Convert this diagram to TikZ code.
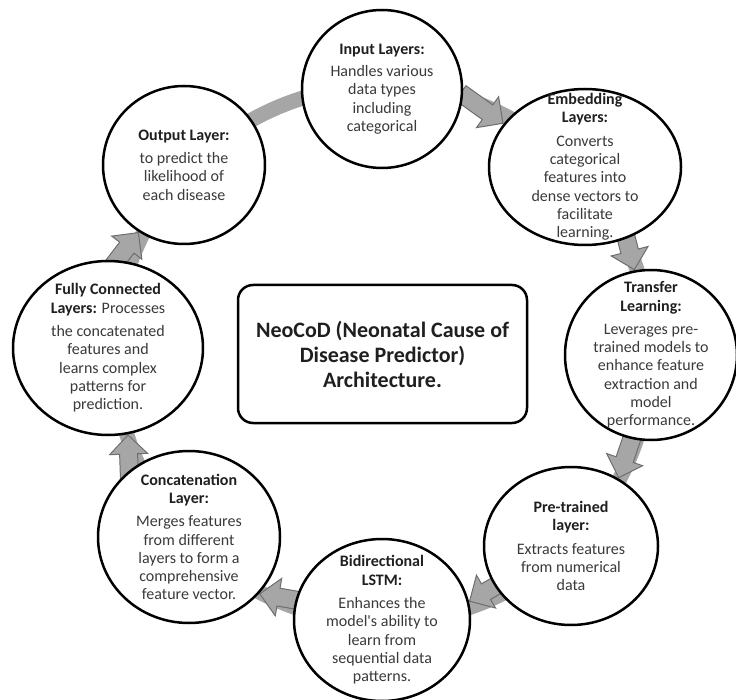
\documentclass[tikz,border=0pt]{standalone}
\usepackage{fontspec}
\setmainfont{Carlito}
\usetikzlibrary{positioning, calc, shapes.geometric, shapes.arrows, backgrounds}
\definecolor{Ink}{HTML}{1F1F1F}
\definecolor{Body}{HTML}{3A3A3A}
\definecolor{Band}{HTML}{A6A6A6}
\definecolor{ArrowFill}{HTML}{A6A6A6}
\definecolor{ArrowEdge}{HTML}{6E6E6E}
\newcommand{\layerhead}[1]{{\fontsize{16}{18.3}\selectfont\bfseries\color{Ink}#1}}
\tikzset{
    layer/.style={ellipse, draw=black, line width=2.5pt, fill=white, inner sep=0pt},
    layertext/.style={align=center, text=Body, inner sep=0pt, font=\fontsize{16}{18.3}\selectfont},
    corebox/.style={rectangle, rounded corners=15pt, draw=black, line width=2.5pt, fill=white, minimum width=289pt, minimum height=138pt, align=center, text=Ink, font=\bfseries\fontsize{22}{25}\selectfont},
    flow/.style={single arrow, draw=ArrowEdge, fill=ArrowFill, line width=1pt, minimum height=52pt, inner xsep=0pt, inner ysep=8.5pt, single arrow head extend=10pt, single arrow head indent=0pt, sloped, allow upside down, anchor=tip, pos=1},
    ringband/.style={draw=Band, line width=15pt},
}

\begin{document}
\begin{tikzpicture}[x=1pt, y=-1pt]
    \useasboundingbox (0,0) rectangle (736,700);

    % Nucleo centrale
    \node[corebox] (core) at (382.5,354) {NeoCoD (Neonatal Cause of\\ Disease Predictor)\\ Architecture.};

    % Cerchi dei livelli
    \node[layer, minimum width=160pt, minimum height=158pt] (inp) at (382,89) {};
    \node[layer, minimum width=192pt, minimum height=156pt] (emb) at (585,167) {};
    \node[layer, minimum width=172pt, minimum height=170pt] (trf) at (651,355) {};
    \node[layer, minimum width=174pt, minimum height=158pt] (pre) at (571,546) {};
    \node[layer, minimum width=176pt, minimum height=162pt] (bil) at (382,620) {};
    \node[layer, minimum width=182pt, minimum height=172pt] (cat) at (189,537) {};
    \node[layer, minimum width=190pt, minimum height=174pt] (fcl) at (108,348) {};
    \node[layer, minimum width=162pt, minimum height=158pt] (out) at (184,165) {};

    % Testi
    \node[layertext] (inp-t) at (inp) {\layerhead{Input Layers:}\\[4pt] Handles various\\ data types\\ including\\ categorical};
    \node[layertext] (emb-t) at (emb) {\layerhead{Embedding}\\ \layerhead{Layers:}\\[5pt] Converts\\ categorical\\ features into\\ dense vectors to\\ facilitate\\ learning.};
    \node[layertext] (trf-t) at (trf) {\layerhead{Transfer}\\ \layerhead{Learning:}\\[5pt] Leverages pre-\\ trained models to\\ enhance feature\\ extraction and\\ model\\ performance.};
    \node[layertext] (pre-t) at (pre) {\layerhead{Pre-trained}\\ \layerhead{layer:}\\[5pt] Extracts features\\ from numerical\\ data};
    \node[layertext] (bil-t) at (bil) {\layerhead{Bidirectional}\\ \layerhead{LSTM:}\\[5pt] Enhances the\\ model\textquotesingle s ability to\\ learn from\\ sequential data\\ patterns.};
    \node[layertext] (cat-t) at (cat) {\layerhead{Concatenation}\\ \layerhead{Layer:}\\[5pt] Merges features\\ from different\\ layers to form a\\ comprehensive\\ feature vector.};
    \node[layertext] (fcl-t) at (fcl) {\layerhead{Fully Connected}\\ \layerhead{Layers:} Processes\\[5pt] the concatenated\\ features and\\ learns complex\\ patterns for\\ prediction.};
    \node[layertext] (out-t) at (out) {\layerhead{Output Layer:}\\[5pt] to predict the\\ likelihood of\\ each disease};

    \begin{scope}[on background layer]
        % Anello grigio
        \draw[ringband] (core.center) circle[radius=268pt];
        % Frecce a blocco
        \path (inp.-4) -- (emb.152) node[flow] (a1) {};
        \path (emb.-60) -- (trf.101) node[flow] (a2) {};
        \path (trf.-103) -- (pre.55) node[flow] (a3) {};
        \path (pre.208) -- (bil.12) node[flow] (a4) {};
        \path (bil.167) -- (cat.-39) node[flow] (a5) {};
        \path (cat.132) -- (fcl.-77) node[flow] (a6) {};
        \path (fcl.84) -- (out.-124) node[flow] (a7) {};
    \end{scope}
\end{tikzpicture}
\end{document}
